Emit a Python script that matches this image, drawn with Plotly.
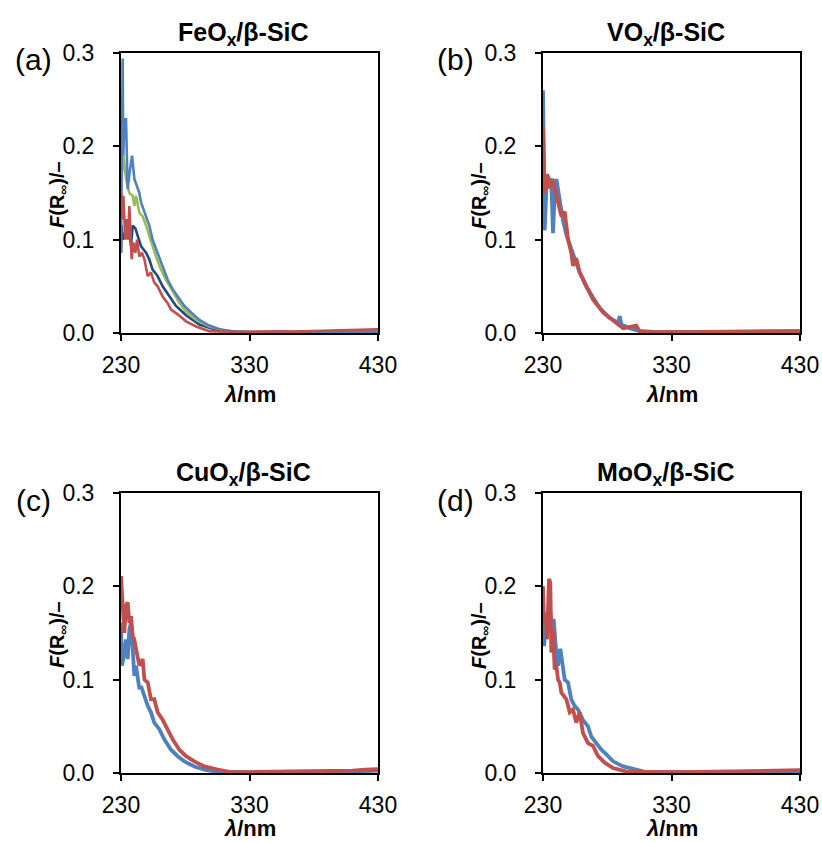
import plotly.graph_objects as go

# ---------------- data ----------------
# Panel (a) FeOx/β-SiC
a_blue_x = [230.0, 231.3, 231.8, 232.6, 233.9, 235.2, 236.5, 238.6, 240.4, 241.7, 244.3, 245.6, 249.5, 252.0,
            254.6, 258.5, 261.1, 266.3, 270.2, 275.4, 279.3, 284.5, 291.0, 298.7, 306.5, 315, 330, 350, 380, 410, 430]
a_blue_y = [0.086, 0.294, 0.19, 0.229, 0.229, 0.154, 0.17, 0.19, 0.165, 0.16, 0.15, 0.14, 0.125, 0.115,
            0.10, 0.085, 0.075, 0.057, 0.047, 0.036, 0.029, 0.022, 0.014, 0.008, 0.004, 0.002, 0.001, 0.0008, 0.001, 0.0012, 0.0015]

a_green_x = [230.0, 230.8, 231.8, 233.9, 236.5, 239.1, 240.4, 241.7, 244.3, 246.9, 249.5, 252.0, 254.6, 257.2,
             261.1, 265.0, 270.2, 275.4, 280.6, 288.4, 298.7, 310, 325, 360, 400, 430]
a_green_y = [0.186, 0.172, 0.19, 0.165, 0.15, 0.147, 0.136, 0.147, 0.129, 0.125, 0.115, 0.104, 0.093, 0.082,
             0.068, 0.057, 0.045, 0.032, 0.023, 0.014, 0.007, 0.003, 0.001, 0.0008, 0.001, 0.0012]

a_navy_x = [230.0, 230.5, 231.3, 233.9, 236.5, 237.8, 239.1, 241.2, 243.0, 245.6, 249.5, 252.0, 254.6, 258.5,
            262.4, 267.6, 272.8, 280.6, 291.0, 300, 312, 330, 370, 430]
a_navy_y = [0.086, 0.115, 0.10, 0.11, 0.108, 0.093, 0.115, 0.112, 0.104, 0.093, 0.086, 0.079, 0.068, 0.061,
            0.05, 0.039, 0.029, 0.019, 0.009, 0.005, 0.002, 0.001, 0.0008, 0.001]

a_red_x = [230.0, 230.8, 231.8, 233.4, 234.4, 235.4, 236.5, 237.3, 238.3, 239.6, 241.2, 242.5, 244.3, 246.3,
           248.2, 250.8, 253.3, 255.9, 258.5, 262.4, 266.3, 268.9, 274.1, 280.6, 288.4, 298.7, 310, 320, 335,
           350, 365, 380, 395, 405, 415, 425, 430]
a_red_y = [0.15, 0.122, 0.147, 0.10, 0.122, 0.10, 0.136, 0.10, 0.079, 0.097, 0.086, 0.10, 0.082, 0.086,
           0.079, 0.061, 0.065, 0.054, 0.05, 0.039, 0.032, 0.025, 0.02, 0.0125, 0.007, 0.002, 0.0015, 0.001, 0.0012,
           0.0018, 0.0015, 0.002, 0.0022, 0.0028, 0.003, 0.0035, 0.004]

# Panel (b) VOx/β-SiC
b_blue_x = [230.0, 231.3, 233.1, 236.5, 237.8, 239.1, 240.4, 243.0, 245.6, 248.2, 252.0, 255.9, 258.5, 261.1,
            263.7, 268.9, 274.1, 281.9, 288.5, 289.7, 291.0, 297.4, 305.2, 320, 350, 390, 430]
b_blue_y = [0.26, 0.11, 0.17, 0.16, 0.107, 0.15, 0.165, 0.14, 0.12, 0.105, 0.09, 0.075, 0.065, 0.058,
            0.05, 0.038, 0.027, 0.016, 0.011, 0.018, 0.009, 0.005, 0.002, 0.001, 0.001, 0.0015, 0.002]

b_red_x = [230.0, 231.3, 233.1, 234.7, 237.3, 239.9, 241.7, 243.0, 244.3, 246.9, 249.5, 252.0, 253.3, 255.9,
           258.5, 263.7, 268.9, 276.7, 284.5, 292.3, 302.6, 305.2, 315, 330, 350, 370, 390, 410, 430]
b_red_y = [0.22, 0.15, 0.17, 0.155, 0.165, 0.15, 0.14, 0.13, 0.125, 0.13, 0.10, 0.086, 0.072, 0.08,
           0.065, 0.05, 0.036, 0.022, 0.013, 0.005, 0.008, 0.002, 0.001, 0.0008, 0.001, 0.0012, 0.0015, 0.0018, 0.002]

# Panel (c) CuOx/β-SiC
c_blue_x = [230.0, 230.8, 232.6, 233.9, 235.2, 236.5, 237.8, 239.1, 240.4, 241.7, 243.0, 244.3, 245.6, 248.2,
            250.8, 253.3, 255.9, 259.8, 263.7, 268.9, 274.1, 279.3, 287.1, 294.9, 305.2, 330, 360, 390, 420, 430]
c_blue_y = [0.161, 0.115, 0.129, 0.143, 0.122, 0.154, 0.161, 0.136, 0.104, 0.115, 0.10, 0.09, 0.093, 0.082,
            0.072, 0.065, 0.054, 0.047, 0.036, 0.025, 0.018, 0.0125, 0.007, 0.0036, 0.001, 0.0008, 0.001, 0.0015, 0.002, 0.0025]

c_red_x = [230.0, 231.3, 232.6, 233.9, 235.2, 236.5, 237.8, 239.1, 240.4, 241.7, 243.0, 244.3, 246.9, 248.2,
           250.8, 253.3, 255.9, 258.5, 262.4, 266.3, 270.2, 275.4, 280.6, 287.1, 294.9, 305.2, 315.6, 330, 350,
           370, 390, 410, 420, 430]
c_red_y = [0.211, 0.172, 0.15, 0.179, 0.183, 0.161, 0.168, 0.147, 0.143, 0.133, 0.122, 0.115, 0.122, 0.10,
           0.097, 0.079, 0.079, 0.065, 0.057, 0.047, 0.036, 0.025, 0.018, 0.0125, 0.007, 0.0036, 0.001, 0.001, 0.0012,
           0.0015, 0.002, 0.0025, 0.0035, 0.004]

# Panel (d) MoOx/β-SiC
d_blue_x = [230.0, 230.8, 232.1, 233.9, 235.7, 237.3, 238.3, 239.9, 241.7, 243.5, 245.0, 246.9, 249.5, 252.0,
            254.6, 257.2, 261.1, 265.0, 267.6, 271.5, 275.4, 279.3, 284.5, 292.3, 300.0, 310.4, 340, 370, 400, 430]
d_blue_y = [0.165, 0.136, 0.158, 0.165, 0.172, 0.154, 0.165, 0.136, 0.115, 0.133, 0.115, 0.10, 0.097, 0.079,
            0.072, 0.068, 0.057, 0.05, 0.039, 0.032, 0.025, 0.02, 0.0125, 0.007, 0.004, 0.001, 0.0008, 0.001, 0.0012, 0.0015]

d_red_x = [230.0, 230.8, 232.1, 233.1, 234.7, 235.7, 236.5, 237.8, 239.1, 240.4, 241.7, 243.0, 244.3, 246.9,
           248.2, 250.8, 253.3, 255.9, 258.5, 261.1, 265.0, 268.9, 272.8, 278.0, 284.5, 294.9, 310, 330, 350,
           370, 390, 410, 430]
d_red_y = [0.20, 0.158, 0.172, 0.143, 0.208, 0.204, 0.129, 0.154, 0.111, 0.115, 0.10, 0.097, 0.086, 0.082,
           0.079, 0.065, 0.068, 0.054, 0.065, 0.043, 0.032, 0.029, 0.018, 0.011, 0.0054, 0.0014, 0.001, 0.0008, 0.0012,
           0.0015, 0.0018, 0.0022, 0.003]

x_ticks = [230, 330, 430]
y_ticks = [0.0, 0.1, 0.2, 0.3]
titles = ["FeO<sub>x</sub>/β-SiC", "VO<sub>x</sub>/β-SiC", "CuO<sub>x</sub>/β-SiC", "MoO<sub>x</sub>/β-SiC"]
panel_labels = ["(a)", "(b)", "(c)", "(d)"]

BLUE = "#4F81BD"
RED = "#C0504D"
GREEN = "#9BBB59"
NAVY = "#1F497D"

FONT = "Liberation Sans, Arial, sans-serif"
W, H = 822, 843

# plot-area pixel boxes (left, right, top, bottom)
boxes = [(121, 378, 53, 333), (543, 800, 53, 333), (121, 378, 493, 773), (543, 800, 493, 773)]
xlabel_offsets = [61, 61, 55, 55]

fig = go.Figure()

panels = [
    [(a_navy_x, a_navy_y, NAVY), (a_green_x, a_green_y, GREEN), (a_blue_x, a_blue_y, BLUE), (a_red_x, a_red_y, RED)],
    [(b_blue_x, b_blue_y, BLUE), (b_red_x, b_red_y, RED)],
    [(c_blue_x, c_blue_y, BLUE), (c_red_x, c_red_y, RED)],
    [(d_blue_x, d_blue_y, BLUE), (d_red_x, d_red_y, RED)],
]

annotations = []
for i, (series, box) in enumerate(zip(panels, boxes)):
    n = i + 1
    xa = "x" if n == 1 else f"x{n}"
    ya = "y" if n == 1 else f"y{n}"
    lw = 2.6 if i == 0 else 3.8
    for xs, ys, col in series:
        fig.add_trace(go.Scatter(x=xs, y=ys, mode="lines", line=dict(color=col, width=lw),
                                 xaxis=xa, yaxis=ya, showlegend=False, hoverinfo="skip"))
    l, r, t, b = box
    xdom = [l / W, r / W]
    ydom = [1 - b / H, 1 - t / H]
    axis_common = dict(showgrid=False, zeroline=False, showline=True, mirror=True, linecolor="black",
                       linewidth=2, ticks="outside", ticklen=6, tickwidth=2, tickcolor="black",
                       automargin=False,
                       tickfont=dict(family=FONT, size=23, color="#000000"))
    fig.update_layout(**{
        ("xaxis" if n == 1 else f"xaxis{n}"): dict(domain=xdom, range=[230, 430], tickvals=x_ticks,
                                                   anchor=ya, ticklabelstandoff=4, **axis_common),
        ("yaxis" if n == 1 else f"yaxis{n}"): dict(domain=ydom, range=[0, 0.3], tickvals=y_ticks,
                                                   tickformat=".1f", anchor=xa, ticklabelstandoff=14,
                                                   **axis_common),
    })
    cx = (l + r) / 2
    # title
    annotations.append(dict(text="<b>" + titles[i] + "</b>", x=(cx - 6) / W, y=1 - (t - 19) / H,
                            xref="paper", yref="paper", showarrow=False, xanchor="center", yanchor="middle",
                            font=dict(family=FONT, size=25, color="black")))
    # panel label
    annotations.append(dict(text=panel_labels[i], x=(l - 88) / W, y=1 - (t + 7) / H,
                            xref="paper", yref="paper", showarrow=False, xanchor="center", yanchor="middle",
                            font=dict(family=FONT, size=30, color="black")))
    # y label
    annotations.append(dict(text="<b><i>F</i>(R<sub>∞</sub>)/–</b>", x=(l - 63) / W, y=1 - ((t + b) / 2 + 2) / H,
                            xref="paper", yref="paper", showarrow=False, textangle=-90,
                            xanchor="center", yanchor="middle",
                            font=dict(family=FONT, size=20, color="black")))
    # x label
    annotations.append(dict(text="<b><i>λ</i>/nm</b>", x=cx / W, y=1 - (b + xlabel_offsets[i]) / H,
                            xref="paper", yref="paper", showarrow=False, xanchor="center", yanchor="middle",
                            font=dict(family=FONT, size=22, color="black")))

fig.update_layout(width=W, height=H, margin=dict(l=0, r=0, t=0, b=0),
                  paper_bgcolor="white", plot_bgcolor="white", annotations=annotations)

fig.write_html("out.html", config={"displayModeBar": False},
               post_script="document.body.style.margin='0';document.body.style.overflow='hidden';")
